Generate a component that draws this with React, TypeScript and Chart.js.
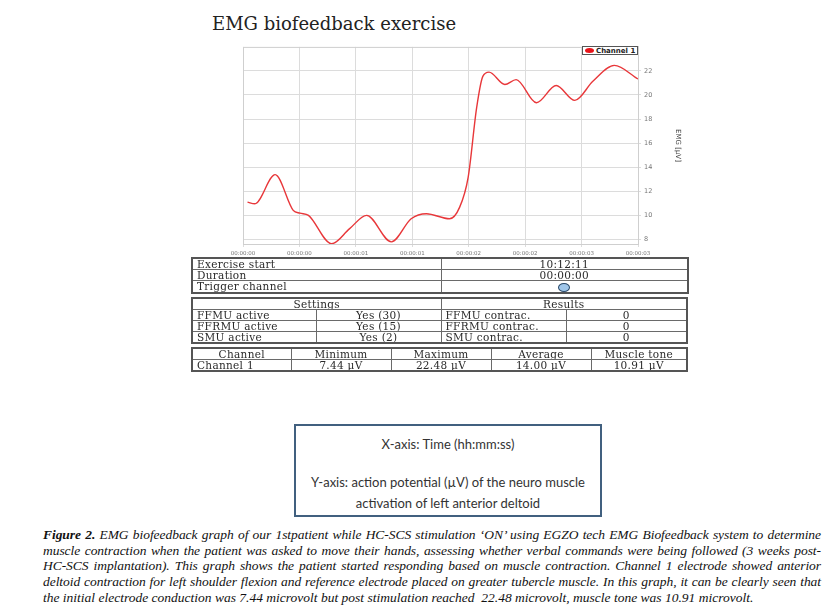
import { useEffect, useRef } from "react";
import { Chart, registerables } from "chart.js";
Chart.register(...registerables);

const xTickLabels = ["00:00:00", "00:00:00", "00:00:01", "00:00:01", "00:00:02", "00:00:02", "00:00:03", "00:00:03"];
const yTickValues = [8, 10, 12, 14, 16, 18, 20, 22];
const timeSteps = [0.08, 0.21, 0.57, 0.89, 1.01, 1.16, 1.57, 1.89, 2.19, 2.63, 2.98, 3.25, 3.66, 3.84, 3.99, 4.14, 4.25, 4.36, 4.64, 4.84, 5.2, 5.55, 5.88, 6.2, 6.58, 7.0];
const emgValues = [11.08, 10.95, 13.37, 10.4, 10.17, 9.98, 7.62, 8.88, 9.98, 7.78, 9.7, 10.12, 9.7, 10.67, 13.15, 18.93, 21.55, 21.9, 20.87, 21.28, 19.35, 20.79, 19.55, 21.14, 22.46, 21.33];

const infoRows = [
  ["Exercise start", "10:12:11"],
  ["Duration", "00:00:00"],
  ["Trigger channel", ""],
];
const settingsRows = [
  ["FFMU active", "Yes (30)", "FFMU contrac.", "0"],
  ["FFRMU active", "Yes (15)", "FFRMU contrac.", "0"],
  ["SMU active", "Yes (2)", "SMU contrac.", "0"],
];
const statHeaders = ["Channel", "Minimum", "Maximum", "Average", "Muscle tone"];
const statRow = ["Channel 1", "7.44 µV", "22.48 µV", "14.00 µV", "10.91 µV"];

const captionLines = [
  " EMG biofeedback graph of our 1stpatient while HC-SCS stimulation \u2018ON\u2019 using  EGZO tech EMG Biofeedback system to determine",
  "muscle contraction when the patient was asked to move their hands, assessing whether verbal commands were being followed (3 weeks post-",
  "HC-SCS implantation). This graph shows the patient started responding based on muscle contraction. Channel 1 electrode showed anterior",
  "deltoid contraction for left shoulder flexion and reference electrode placed on greater tubercle muscle. In this graph, it can be clearly seen that",
  "the initial electrode conduction was 7.44 microvolt but post stimulation reached\u00a0 22.48 microvolt, muscle tone was 10.91 microvolt.",
];

const borderPlugin = {
  id: "plotBorder",
  afterDraw(chart: any) {
    const { ctx, chartArea: a } = chart;
    ctx.save();
    ctx.strokeStyle = "#cfcfcf";
    ctx.lineWidth = 1;
    ctx.strokeRect(a.left + 0.5, a.top + 0.5, a.right - a.left, a.bottom - a.top);
    ctx.restore();
  },
};

function EmgChart() {
  const ref = useRef<HTMLCanvasElement>(null);
  useEffect(() => {
    if (!ref.current) return;
    const chart = new Chart(ref.current, {
      type: "line",
      data: {
        datasets: [
          {
            label: "Channel 1",
            data: timeSteps.map((t, i) => ({ x: t, y: emgValues[i] })),
            borderColor: "#e8373a",
            borderWidth: 1.4,
            pointRadius: 0,
            cubicInterpolationMode: "monotone",
            fill: false,
          },
        ],
      },
      options: {
        animation: false,
        responsive: false,
        maintainAspectRatio: false,
        layout: { padding: { left: 53, right: 6, top: 6, bottom: 0 } },
        plugins: { legend: { display: false }, tooltip: { enabled: false } },
        scales: {
          x: {
            type: "linear",
            min: 0,
            max: 7,
            afterBuildTicks: (s: any) => {
              s.ticks = xTickLabels.map((_, i) => ({ value: i }));
            },
            afterFit: (s: any) => {
              s.height = 16;
            },
            ticks: {
              callback: (v: any) => xTickLabels[v as number] ?? "",
              font: { family: "DejaVu Sans", size: 5.5 },
              color: "#777",
              maxRotation: 0,
              autoSkip: false,
              padding: 3,
            },
            grid: { color: "#dcdcdc", tickLength: 3 },
            border: { color: "#cfcfcf" },
          },
          y: {
            type: "linear",
            position: "right",
            min: 7.6,
            max: 24,
            afterBuildTicks: (s: any) => {
              s.ticks = yTickValues.map((v) => ({ value: v }));
            },
            afterFit: (s: any) => {
              s.width = 46;
            },
            ticks: {
              font: { family: "DejaVu Sans", size: 6.5 },
              color: "#777",
              padding: 3,
            },
            grid: { color: "#dcdcdc", tickLength: 3 },
            border: { color: "#cfcfcf" },
            title: {
              display: true,
              text: "EMG [µV]",
              font: { family: "DejaVu Sans", size: 7 },
              color: "#444",
              padding: 2,
            },
          },
        },
      },
      plugins: [borderPlugin],
    } as any);
    return () => chart.destroy();
  }, []);
  return <canvas ref={ref} width={500} height={220} style={{ width: 500, height: 220 }} />;
}

const serif = "'DejaVu Serif', serif";
const cellBase: React.CSSProperties = {
  border: "1.5px solid #6a6a6a",
  padding: "0 4px",
  height: 10,
  lineHeight: "10px",
  fontSize: 10.5,
  letterSpacing: 0.3,
  fontFamily: serif,
  color: "#2a2a2a",
  whiteSpace: "nowrap",
  overflow: "hidden",
};
const tableBase: React.CSSProperties = {
  position: "absolute",
  borderCollapse: "collapse",
  tableLayout: "fixed",
  border: "2px solid #555",
};

export default function App() {
  return (
    <div style={{ position: "absolute", left: 0, top: 0, width: 837, height: 616, background: "#fff", overflow: "hidden" }}>
      <div style={{ position: "absolute", left: 212, top: 14, fontFamily: serif, fontSize: 18, lineHeight: "20px", color: "#222", whiteSpace: "nowrap" }}>
        EMG biofeedback exercise
      </div>
      <div style={{ position: "absolute", left: 190, top: 40, width: 500, height: 220 }}>
        <EmgChart />
      </div>
      <div
        style={{
          position: "absolute",
          left: 582,
          top: 46,
          width: 56,
          height: 9,
          boxSizing: "border-box",
          border: "1px solid #555",
          background: "#fff",
          display: "flex",
          alignItems: "center",
          fontFamily: "'DejaVu Sans', sans-serif",
          fontSize: 7,
          fontWeight: "bold",
          color: "#222",
        }}
      >
        <span style={{ display: "inline-block", width: 9, height: 5, borderRadius: "50%", background: "#e8141a", margin: "0 2px 0 2px" }} />
        Channel 1
      </div>

      <table style={{ ...tableBase, left: 191, top: 257, width: 496 }}>
        <colgroup>
          <col style={{ width: 249 }} />
          <col style={{ width: 247 }} />
        </colgroup>
        <tbody>
          {infoRows.map((r, i) => (
            <tr key={i}>
              <td style={cellBase}>{r[0]}</td>
              <td style={{ ...cellBase, textAlign: "center" }}>
                {i === 2 ? (
                  <span style={{ display: "inline-block", width: 10, height: 7, borderRadius: "50%", background: "#9fc6ea", border: "1px solid #2b4a6a", verticalAlign: "middle" }} />
                ) : (
                  r[1]
                )}
              </td>
            </tr>
          ))}
        </tbody>
      </table>

      <table style={{ ...tableBase, left: 191, top: 297, width: 495 }}>
        <colgroup>
          <col style={{ width: 124 }} />
          <col style={{ width: 125 }} />
          <col style={{ width: 125 }} />
          <col style={{ width: 121 }} />
        </colgroup>
        <tbody>
          <tr>
            <td colSpan={2} style={{ ...cellBase, textAlign: "center" }}>Settings</td>
            <td colSpan={2} style={{ ...cellBase, textAlign: "center" }}>Results</td>
          </tr>
          {settingsRows.map((r, i) => (
            <tr key={i}>
              <td style={cellBase}>{r[0]}</td>
              <td style={{ ...cellBase, textAlign: "center" }}>{r[1]}</td>
              <td style={cellBase}>{r[2]}</td>
              <td style={{ ...cellBase, textAlign: "center" }}>{r[3]}</td>
            </tr>
          ))}
        </tbody>
      </table>

      <table style={{ ...tableBase, left: 191, top: 347, width: 495 }}>
        <colgroup>
          <col style={{ width: 99 }} />
          <col style={{ width: 100 }} />
          <col style={{ width: 100 }} />
          <col style={{ width: 100 }} />
          <col style={{ width: 96 }} />
        </colgroup>
        <tbody>
          <tr>
            {statHeaders.map((h, i) => (
              <td key={i} style={{ ...cellBase, textAlign: "center" }}>{h}</td>
            ))}
          </tr>
          <tr>
            {statRow.map((h, i) => (
              <td key={i} style={{ ...cellBase, textAlign: i === 0 ? "left" : "center" }}>{h}</td>
            ))}
          </tr>
        </tbody>
      </table>

      <div
        style={{
          position: "absolute",
          left: 294,
          top: 424,
          width: 308,
          height: 93,
          boxSizing: "border-box",
          border: "2.5px solid #41607f",
          fontFamily: "Lato, sans-serif",
          fontSize: 13,
          color: "#333",
          textAlign: "center",
        }}
      >
        <div style={{ position: "absolute", left: 0, right: 0, top: 9, lineHeight: "18px" }}>X-axis: Time (hh:mm:ss)</div>
        <div style={{ position: "absolute", left: 0, right: 0, top: 46, lineHeight: "21px" }}>
          Y-axis: action potential (µV) of the neuro muscle
          <br />
          activation of left anterior deltoid
        </div>
      </div>

      <div
        style={{
          position: "absolute",
          left: 43,
          top: 527,
          width: 778,
          fontFamily: "'Liberation Serif', 'Times New Roman', serif",
          fontStyle: "italic",
          fontSize: 13.5,
          lineHeight: "15.7px",
          color: "#111",
        }}
      >
        {captionLines.map((l, i) => {
          const justified = i < captionLines.length - 1;
          return (
            <div
              key={i}
              style={{
                textAlign: justified ? "justify" : "left",
                textAlignLast: justified ? "justify" : "left",
                wordSpacing: justified ? -2 : 0,
                letterSpacing: justified ? -0.05 : 0,
                whiteSpace: "normal",
              }}
            >
              {i === 0 && <b>Figure 2.</b>}
              {l}
            </div>
          );
        })}
      </div>
    </div>
  );
}
